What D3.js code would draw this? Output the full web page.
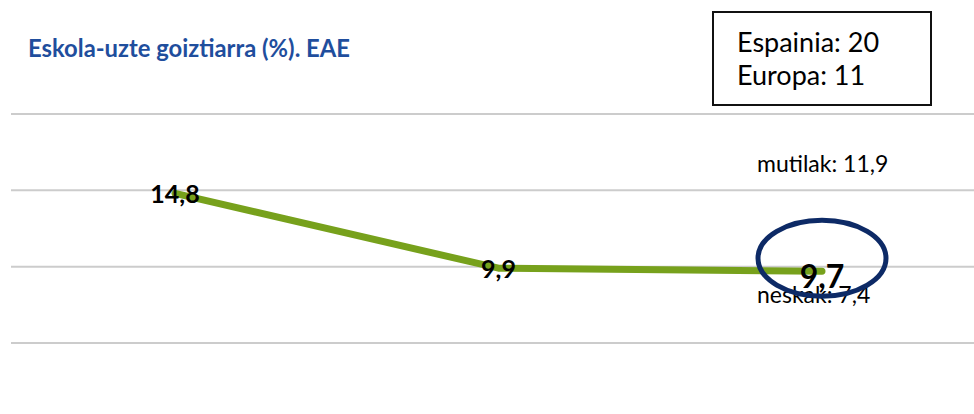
<!DOCTYPE html>
<html><head><meta charset="utf-8">
<script src="https://cdn.jsdelivr.net/npm/d3@7"></script>
<style>html,body{margin:0;padding:0;background:#fff;}svg{display:block;}</style>
</head><body>
<svg id="c" width="974" height="414"></svg>
<script>
const categories = ["1", "2", "3"];
const values = [14.8, 9.9, 9.7];
const valueLabels = ["14,8", "9,9", "9,7"];
const yTicks = [5, 10, 15, 20];
const title = "Eskola-uzte goiztiarra (%). EAE";
const boxLines = ["Espainia: 20", "Europa: 11"];
const noteTop = "mutilak: 11,9";
const noteBottom = "neskak: 7,4";

const svg = d3.select("#c");
const font = "Lato, 'Open Sans', sans-serif";

const x = d3.scalePoint().domain(categories).range([175, 822]);
const y = d3.scaleLinear().domain([5, 20]).range([343, 114]);

// gridlines
svg.append("g").selectAll("line").data(yTicks).join("line")
  .attr("x1", 11).attr("x2", 974)
  .attr("y1", d => y(d)).attr("y2", d => y(d))
  .attr("stroke", "#cccccc").attr("stroke-width", 2);

// title
svg.append("text").attr("x", 28).attr("y", 57)
  .attr("font-family", font).attr("font-weight", 700).attr("font-size", 23.8)
  .attr("fill", "#1f4e9d").text(title);

// box
svg.append("rect").attr("x", 713).attr("y", 12).attr("width", 218).attr("height", 93)
  .attr("fill", "#fff").attr("stroke", "#111").attr("stroke-width", 2);
svg.append("g").selectAll("text").data(boxLines).join("text")
  .attr("x", 737).attr("y", (d, i) => 52 + i * 33)
  .attr("font-family", font).attr("font-size", 27).attr("fill", "#000").text(d => d);

// line
const data = categories.map((c, i) => ({c, v: values[i], l: valueLabels[i]}));
svg.append("path").datum(data)
  .attr("d", d3.line().x(d => x(d.c)).y(d => y(d.v)))
  .attr("fill", "none").attr("stroke", "#77a11c").attr("stroke-width", 7)
  .attr("stroke-linecap", "round").attr("stroke-linejoin", "round");

// notes
svg.append("text").attr("x", 757).attr("y", 172)
  .attr("font-family", font).attr("font-size", 23).attr("fill", "#000").text(noteTop);
svg.append("text").attr("x", 757).attr("y", 303)
  .attr("font-family", font).attr("font-size", 23).attr("fill", "#000").text(noteBottom);

// value labels
svg.append("g").selectAll("text").data(data).join("text")
  .attr("x", d => x(d.c)).attr("y", (d, i) => y(d.v) + (i === 2 ? 17 : 10))
  .attr("text-anchor", "middle")
  .attr("font-family", font).attr("font-weight", 700)
  .attr("font-size", (d, i) => i === 2 ? 32 : 25)
  .attr("fill", "#000").text(d => d.l);

// ellipse highlight
const last = data[data.length - 1];
svg.append("ellipse").attr("cx", x(last.c)).attr("cy", y(last.v) - 13)
  .attr("rx", 64).attr("ry", 38)
  .attr("fill", "none").attr("stroke", "#0d2a66").attr("stroke-width", 5);
</script>
</body></html>
